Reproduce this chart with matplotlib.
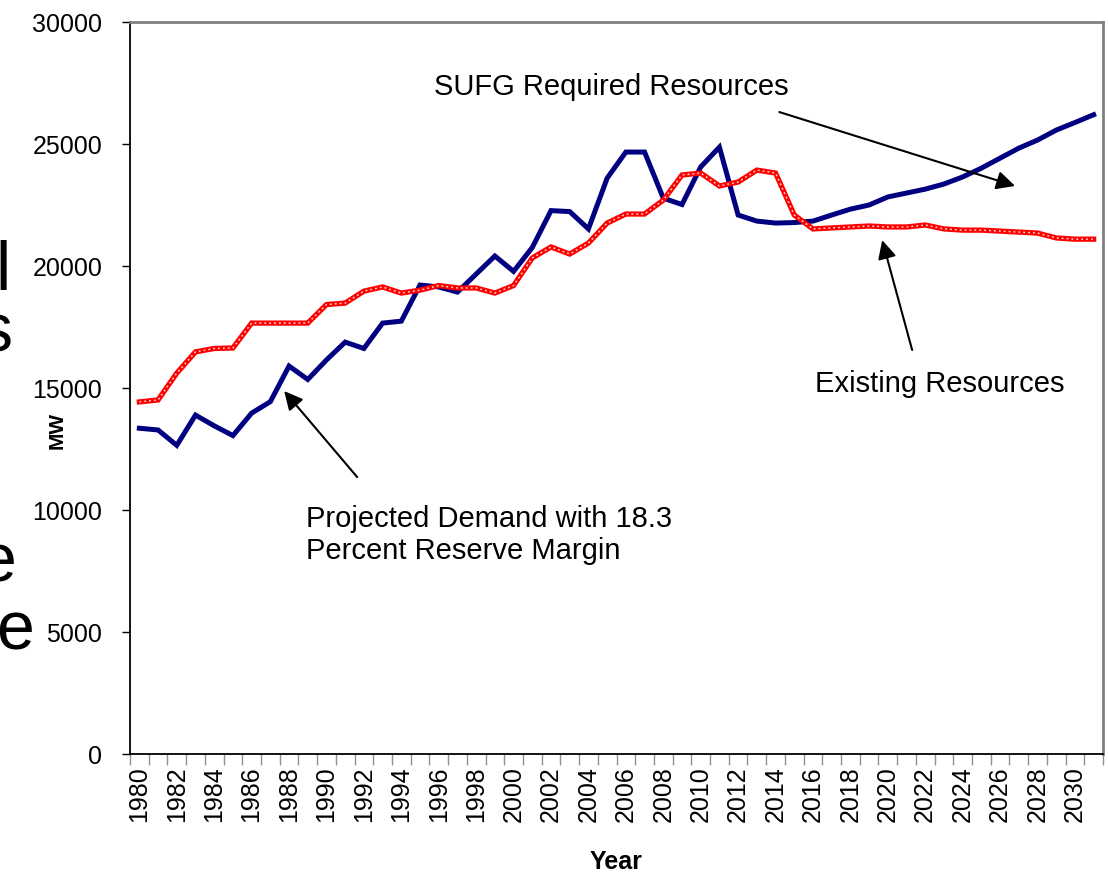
import numpy as np
import matplotlib
matplotlib.use('Agg')
import matplotlib.pyplot as plt

plt.rcParams['font.family'] = ['Liberation Sans', 'DejaVu Sans']

years = list(range(1980, 2032))

# Projected Demand with 18.3 Percent Reserve Margin (SUFG Required Resources after 2011)
demand = [13350, 13280, 12650, 13890, 13450, 13050, 13970, 14440, 15900, 15350,
          16150, 16880, 16620, 17660, 17740, 19220, 19140, 18930, 19670, 20410,
          19780, 20760, 22270, 22230, 21520, 23600, 24670, 24670, 22780, 22520,
          24060, 24870, 22090, 21840, 21760, 21780, 21840, 22090, 22330, 22500,
          22830, 22990, 23150, 23360, 23650, 24010, 24420, 24830, 25160, 25570,
          25880, 26200]

# Existing Resources
existing = [14430, 14510, 15610, 16480, 16620, 16640, 17660, 17660, 17660, 17660,
            18420, 18480, 18970, 19140, 18890, 19010, 19200, 19100, 19100, 18890,
            19200, 20330, 20780, 20490, 20940, 21760, 22130, 22130, 22700, 23730,
            23810, 23280, 23440, 23930, 23810, 22090, 21520, 21560, 21600, 21640,
            21600, 21600, 21680, 21520, 21470, 21470, 21430, 21390, 21350, 21150,
            21100, 21100]

W, H = 1108, 873
fig = plt.figure(figsize=(W / 100, H / 100), dpi=100)
ax = fig.add_axes([130 / W, 1 - 754 / H, (1103 - 130) / W, (754 - 22) / H])

x = np.arange(len(years)) + 0.5
ax.plot(x, demand, color='#000080', lw=3.6, solid_joinstyle='miter', zorder=3)
ax.plot(x, existing, color='#ff0000', lw=3.8, solid_joinstyle='miter', zorder=4)
ax.plot(x, existing, color='#ffd6d6', lw=1.1, ls=(0, (1.2, 2.0)), zorder=5)

ax.set_xlim(0, len(years))
ax.set_ylim(0, 30000)
ax.set_yticks(range(0, 30001, 5000))
ax.set_xticks(np.arange(0, len(years) + 1))
ax.set_xticklabels([])
ax.set_xticks(x[::2], minor=True)
ax.set_xticklabels([str(y) for y in years[::2]], minor=True, rotation=90)

ax.tick_params(axis='y', direction='out', length=6, width=1, pad=14, labelsize=18)
ax.tick_params(axis='x', which='major', direction='out', length=8, width=1, color='#909090')
ax.tick_params(axis='x', which='minor', length=0, pad=9, labelsize=18)

for s in ['left', 'bottom']:
    ax.spines[s].set_color('black')
    ax.spines[s].set_linewidth(1.3)
for s in ['top', 'right']:
    ax.spines[s].set_color('#808080')
    ax.spines[s].set_linewidth(2)

ax.set_xlabel('Year', fontsize=18, fontweight='bold', labelpad=20)
fig.text(57 / W, 1 - 430 / H, 'MW', rotation=90, fontsize=15, fontweight='bold',
         ha='center', va='center')

arrow = dict(arrowstyle='-|>', mutation_scale=28, lw=1.5, color='black',
             shrinkA=0, shrinkB=0)
ax.annotate('', xy=(47.3, 23280), xytext=(34.7, 26310), arrowprops=arrow)
ax.text(25.7, 27330, 'SUFG Required Resources', fontsize=21, ha='center', va='center')
ax.annotate('', xy=(40.2, 21060), xytext=(41.8, 16560), arrowprops=arrow)
ax.text(43.3, 15160, 'Existing Resources', fontsize=21, ha='center', va='center')
ax.annotate('', xy=(8.24, 14875), xytext=(12.14, 11350), arrowprops=arrow)
ax.text(9.4, 8975, 'Projected Demand with 18.3\nPercent Reserve Margin', fontsize=21,
        ha='left', va='center', linespacing=1.17)

# clipped letters of a slide title at the left edge
for ch, px, py in [('l', 10, 290), ('s', 12, 352), ('e', 16, 582), ('e', 34, 650)]:
    fig.text(px / W, 1 - py / H, ch, fontsize=49, ha='right', va='baseline')

fig.savefig('out.png', dpi=100)
